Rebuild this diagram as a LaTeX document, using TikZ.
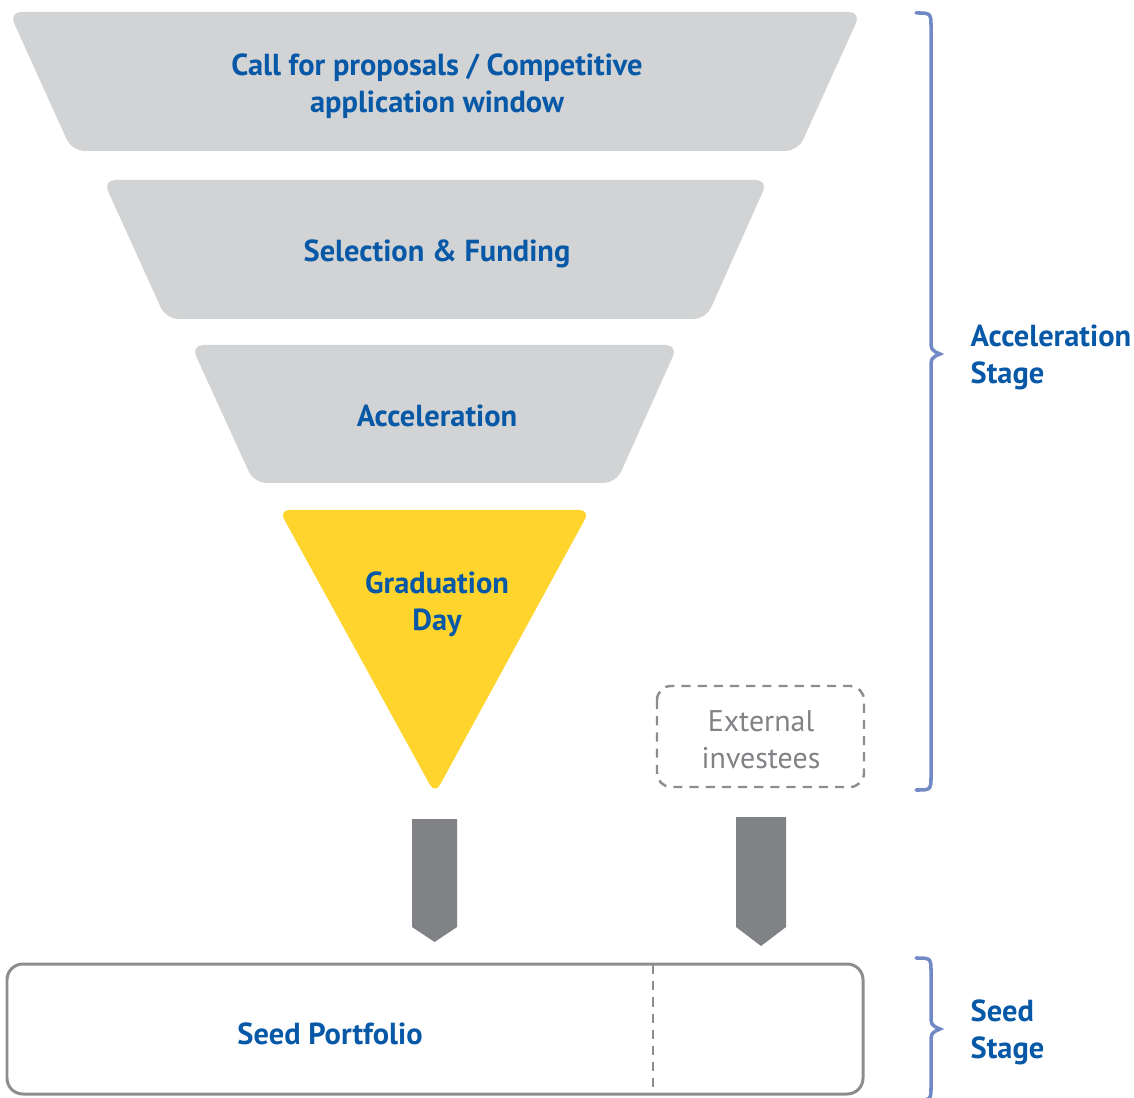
\documentclass[tikz,border=0pt]{standalone}
\usepackage{fontspec}
\setmainfont{PT Sans}
\usetikzlibrary{positioning}
\definecolor{funnelgray}{HTML}{D1D3D4}
\definecolor{gradyellow}{HTML}{FED42D}
\definecolor{textblue}{HTML}{0758A6}
\definecolor{bracecol}{HTML}{7189C4}
\definecolor{arrowgray}{HTML}{808285}
\definecolor{linegray}{HTML}{8C8D8F}
\tikzset{
  steplabel/.style={font=\bfseries\fontsize{8.65}{10.5}\selectfont, text=textblue, align=center, inner sep=0pt},
  stagelabel/.style={steplabel, align=left, anchor=west},
  extlabel/.style={font=\fontsize{8.5}{10.5}\selectfont, text=arrowgray, align=center, inner sep=0pt},
  funnelpart/.style={fill=funnelgray, rounded corners=3.5pt},
  stagebrace/.style={draw=bracecol, line width=1pt, line cap=round},
  dashbox/.style={draw=linegray, line width=0.7pt, dash pattern=on 2.6pt off 2pt}
}
\begin{document}
\begin{tikzpicture}[x=0.01cm, y=-0.01cm]
  \clip (0,0) rectangle (1134,1098);
  \useasboundingbox (0,0) rectangle (1134,1098);
  % funnel
  \fill[funnelpart] (9,12) -- (861,12) -- (798,151) -- (72,151) -- cycle;
  \fill[funnelpart] (103,180) -- (768,180) -- (706,319) -- (166,319) -- cycle;
  \fill[funnelpart] (191,345) -- (678,345) -- (616,483) -- (254,483) -- cycle;
  \fill[gradyellow, rounded corners=3pt] (279,510) -- (590,510) -- (435,794) -- cycle;
  \node[steplabel] (call) at (437,86) {Call for proposals / Competitive\\application window};
  \node[steplabel] (select) at (437,254) {Selection \& Funding};
  \node[steplabel] (accel) at (437,416) {Acceleration};
  \node[steplabel] (grad) at (437,604) {Graduation\\Day};
  % external investees
  \draw[dashbox, rounded corners=4pt] (657,686) rectangle (864,787);
  \node[extlabel] (ext) at (761,740) {External\\investees};
  % block arrows
  \fill[arrowgray] (412,819) -- ++(45,0) -- ++(0,108) -- ++(-22.5,15) -- ++(-22.5,-15) -- cycle;
  \fill[arrowgray] (736,817) -- ++(50,0) -- ++(0,110) -- ++(-25,19) -- ++(-25,-19) -- cycle;
  % seed portfolio
  \draw[draw=linegray, line width=0.85pt, rounded corners=4.5pt] (7,964) rectangle (863,1094);
  \draw[dashbox, line width=0.6pt] (653,965) -- (653,1094);
  \node[steplabel] (seed) at (330,1034) {Seed Portfolio};
  % braces
  \coordinate (acctip) at (940,354);
  \coordinate (seedtip) at (940,1029);
  \draw[stagebrace] (916,13) .. controls (931,13) .. (931,28) -- (931,338)
    .. controls (931,350) .. (acctip) .. controls (931,358) .. (931,370)
    -- (931,775) .. controls (931,790) .. (916,790);
  \draw[stagebrace] (916,958) .. controls (931,958) .. (931,973) -- (931,1014)
    .. controls (931,1025) .. (seedtip) .. controls (931,1033) .. (931,1044)
    -- (931,1086) .. controls (931,1100) .. (916,1100);
  \node[stagelabel, right=0.3cm of acctip, yshift=-0.035cm] (accstage) {Acceleration\\Stage};
  \node[stagelabel, right=0.3cm of seedtip, yshift=-0.035cm] (seedstage) {Seed\\Stage};
\end{tikzpicture}
\end{document}
